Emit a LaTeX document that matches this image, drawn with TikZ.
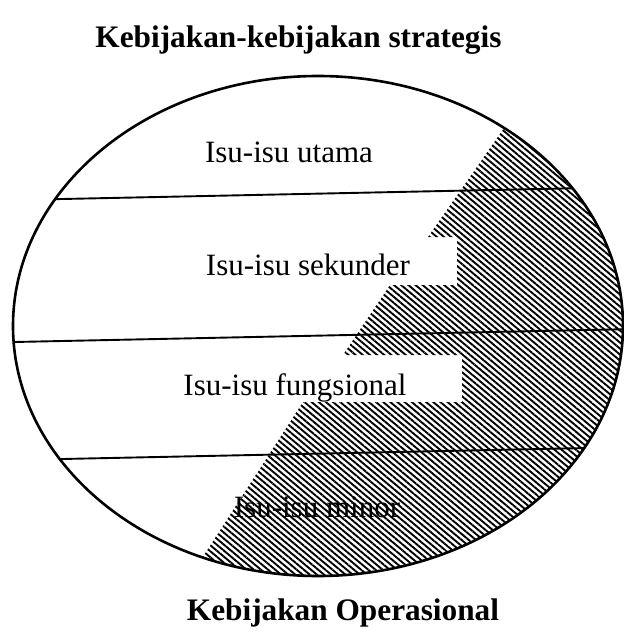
\documentclass[tikz,border=0pt]{standalone}
\usepackage{fontspec}
\setmainfont{Liberation Serif}
\usetikzlibrary{patterns.meta}

\begin{document}
\begin{tikzpicture}[
  x=1pt, y=-1pt,
  rim/.style={line width=2.6pt},
  rule/.style={line width=1.9pt},
  hatch/.style={pattern={Lines[angle=-40, distance=4.6pt, line width=1.9pt]}},
  issue/.style={anchor=base, inner sep=0pt, font=\fontsize{31}{36}\selectfont},
  policy/.style={anchor=base, inner sep=0pt, font=\fontsize{31.3}{36}\selectfont\bfseries},
]
\useasboundingbox (0,0) rectangle (624,633);

% Ellipse centre
\coordinate (c) at (318,326);

% Hatched staircase + level rules, inside the ellipse
\begin{scope}
  \clip (c) ellipse [x radius=305pt, y radius=250pt];
  \fill[hatch] (560,48) -- (428,237) -- (457,237) -- (457,285) -- (390,285)
    -- (343,355) -- (462,355) -- (462,402) -- (303,402) -- (175,600)
    -- (700,600) -- (700,48) -- cycle;
  \draw[rule] (0,200.3) -- (640,186.9);
  \draw[rule] (0,342.3) -- (640,328.9);
  \draw[rule] (0,460.3) -- (640,446.9);
\end{scope}
\draw[rim] (c) ellipse [x radius=305pt, y radius=250pt];

% Titles
\node[policy] (strat) at (298.5,47) {Kebijakan-kebijakan strategis};
\node[policy] (oper) at (343,620) {Kebijakan Operasional};

% Levels
\node[issue] (utama) at (289,162) {Isu-isu utama};
\node[issue] (sekunder) at (308,275) {Isu-isu sekunder};
\node[issue] (fungsi) at (295,395) {Isu-isu fungsional};
\node[issue] (minor) at (317,517) {Isu-isu minor};
\end{tikzpicture}
\end{document}
